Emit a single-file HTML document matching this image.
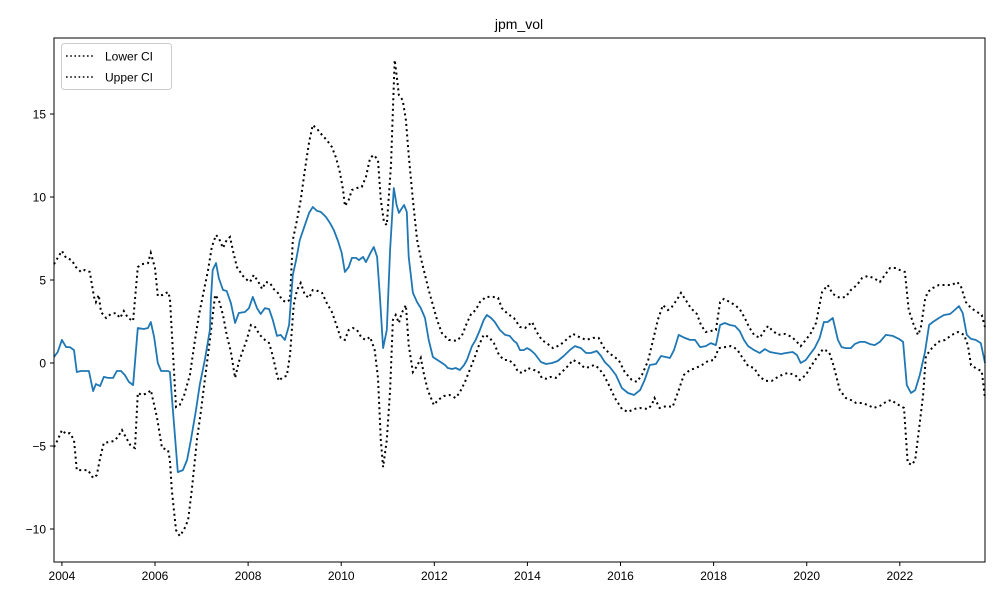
<!DOCTYPE html>
<html><head><meta charset="utf-8"><style>
body{margin:0;background:#fff;}
svg{display:block;font-family:"Liberation Sans","DejaVu Sans",sans-serif;}
</style></head><body>
<svg id="chart" width="1000" height="600">
<rect x="0" y="0" width="1000" height="600" fill="#fff"/>
<text x="519" y="29" font-size="14" text-anchor="middle">jpm_vol</text>
<g id="grid"></g>
<g id="series"></g>
<rect x="54" y="38" width="931" height="524" fill="none" stroke="#000" stroke-width="1"/>
<g>
<rect x="61.5" y="43.5" width="110" height="46" rx="3" fill="#fff" fill-opacity="0.8" stroke="#ccc"/>
<line x1="66" y1="56" x2="94" y2="56" stroke="#000" stroke-width="1.6" stroke-dasharray="1.6,2.6"/>
<text x="105" y="60.5" font-size="12">Lower CI</text>
<line x1="66" y1="77" x2="94" y2="77" stroke="#000" stroke-width="1.6" stroke-dasharray="1.6,2.6"/>
<text x="105" y="81.5" font-size="12">Upper CI</text>
</g>
</svg>
<script>
const xTicks=[2004,2006,2008,2010,2012,2014,2016,2018,2020,2022];
const yTicks=[-10,-5,0,5,10,15];
const midDates=[2003.83,2003.91,2004.00,2004.09,2004.17,2004.26,2004.32,2004.41,2004.58,2004.67,2004.73,2004.82,2004.90,2004.99,2005.10,2005.18,2005.27,2005.35,2005.44,2005.53,2005.63,2005.76,2005.85,2005.91,2005.98,2006.06,2006.13,2006.28,2006.32,2006.49,2006.60,2006.69,2006.77,2006.88,2006.96,2007.07,2007.18,2007.20,2007.24,2007.31,2007.37,2007.46,2007.54,2007.63,2007.72,2007.80,2007.93,2008.02,2008.10,2008.19,2008.27,2008.36,2008.45,2008.53,2008.62,2008.70,2008.79,2008.88,2008.96,2009.03,2009.11,2009.22,2009.31,2009.39,2009.48,2009.56,2009.67,2009.76,2009.84,2009.93,2010.01,2010.08,2010.16,2010.23,2010.32,2010.38,2010.47,2010.53,2010.64,2010.70,2010.77,2010.83,2010.90,2010.98,2011.05,2011.13,2011.19,2011.24,2011.28,2011.35,2011.41,2011.45,2011.54,2011.63,2011.71,2011.80,2011.88,2011.97,2012.10,2012.23,2012.29,2012.38,2012.46,2012.55,2012.64,2012.70,2012.81,2012.89,2012.98,2013.06,2013.13,2013.22,2013.30,2013.41,2013.52,2013.62,2013.71,2013.77,2013.84,2013.92,2013.99,2014.07,2014.16,2014.29,2014.40,2014.53,2014.65,2014.78,2014.91,2015.02,2015.15,2015.26,2015.36,2015.49,2015.58,2015.66,2015.77,2015.90,2016.03,2016.16,2016.29,2016.42,2016.52,2016.63,2016.76,2016.87,2016.97,2017.06,2017.15,2017.25,2017.38,2017.49,2017.60,2017.71,2017.83,2017.94,2018.05,2018.14,2018.24,2018.35,2018.46,2018.56,2018.65,2018.74,2018.87,2018.99,2019.10,2019.21,2019.32,2019.45,2019.55,2019.70,2019.79,2019.87,2019.98,2020.09,2020.17,2020.28,2020.37,2020.45,2020.56,2020.67,2020.75,2020.84,2020.95,2021.03,2021.14,2021.25,2021.36,2021.46,2021.57,2021.70,2021.85,2021.98,2022.07,2022.15,2022.24,2022.33,2022.43,2022.54,2022.63,2022.71,2022.84,2022.95,2023.08,2023.18,2023.27,2023.35,2023.44,2023.53,2023.63,2023.74,2023.83];
const midValues=[0.36,0.66,1.39,0.96,0.96,0.78,-0.54,-0.48,-0.48,-1.69,-1.27,-1.39,-0.84,-0.90,-0.90,-0.48,-0.48,-0.72,-1.14,-1.33,2.11,2.05,2.11,2.47,1.57,0,-0.48,-0.48,-0.54,-6.57,-6.45,-5.84,-4.64,-2.83,-1.33,0.18,1.99,3.80,5.6,6.02,5.12,4.40,4.34,3.61,2.41,3.01,3.07,3.31,3.98,3.31,2.95,3.31,3.25,2.59,1.63,1.69,1.39,2.29,5.30,6.20,7.41,8.31,9.04,9.40,9.16,9.10,8.80,8.43,8.01,7.35,6.63,5.48,5.78,6.33,6.33,6.20,6.39,6.08,6.69,6.99,6.39,4.10,0.90,1.99,6.81,10.54,9.52,9.04,9.22,9.52,9.10,6.39,4.22,3.67,3.31,2.71,1.39,0.36,0.12,-0.12,-0.30,-0.36,-0.30,-0.42,-0.12,0.18,1.02,1.39,1.99,2.59,2.89,2.71,2.47,1.99,1.69,1.63,1.33,1.20,0.78,0.78,0.90,0.78,0.54,0.06,-0.06,0,0.12,0.42,0.78,1.02,0.90,0.60,0.60,0.72,0.42,0.06,-0.24,-0.72,-1.51,-1.81,-1.93,-1.63,-1.02,-0.12,-0.06,0.42,0.36,0.30,0.78,1.69,1.51,1.39,1.39,0.96,1.02,1.20,1.08,2.29,2.41,2.29,2.23,1.93,1.39,1.02,0.78,0.60,0.84,0.66,0.60,0.54,0.60,0.66,0.48,0,0.18,0.60,0.90,1.51,2.47,2.47,2.71,1.39,0.96,0.90,0.90,1.14,1.27,1.27,1.14,1.08,1.27,1.69,1.63,1.45,1.27,-1.33,-1.81,-1.63,-0.72,0.66,2.29,2.47,2.71,2.89,2.95,3.19,3.43,3.01,1.69,1.45,1.39,1.20,0];
const upperDates=[2003.83,2003.91,2004.00,2004.09,2004.21,2004.30,2004.41,2004.49,2004.60,2004.69,2004.73,2004.79,2004.84,2004.95,2005.05,2005.16,2005.25,2005.33,2005.42,2005.53,2005.63,2005.72,2005.85,2005.91,2006.00,2006.06,2006.17,2006.28,2006.32,2006.45,2006.53,2006.62,2006.75,2006.86,2006.94,2007.03,2007.14,2007.22,2007.31,2007.37,2007.46,2007.54,2007.61,2007.67,2007.76,2007.89,2007.95,2008.04,2008.12,2008.21,2008.30,2008.38,2008.47,2008.55,2008.64,2008.73,2008.81,2008.90,2008.96,2009.05,2009.13,2009.22,2009.31,2009.39,2009.50,2009.59,2009.69,2009.80,2009.89,2009.97,2010.04,2010.08,2010.16,2010.23,2010.34,2010.44,2010.53,2010.62,2010.70,2010.79,2010.85,2010.92,2010.98,2011.07,2011.11,2011.15,2011.19,2011.24,2011.32,2011.39,2011.45,2011.54,2011.63,2011.71,2011.80,2011.88,2011.97,2012.06,2012.16,2012.31,2012.48,2012.59,2012.70,2012.79,2012.89,2012.98,2013.11,2013.26,2013.37,2013.45,2013.58,2013.71,2013.84,2013.95,2014.10,2014.20,2014.31,2014.44,2014.55,2014.70,2014.83,2014.98,2015.15,2015.26,2015.41,2015.53,2015.66,2015.81,2015.96,2016.09,2016.24,2016.35,2016.46,2016.59,2016.70,2016.80,2016.91,2017.02,2017.10,2017.21,2017.30,2017.40,2017.51,2017.64,2017.73,2017.83,2017.94,2018.05,2018.14,2018.22,2018.35,2018.46,2018.56,2018.67,2018.76,2018.87,2018.99,2019.10,2019.17,2019.25,2019.38,2019.53,2019.68,2019.79,2019.87,2019.98,2020.09,2020.20,2020.33,2020.45,2020.56,2020.71,2020.84,2020.95,2021.08,2021.19,2021.31,2021.44,2021.57,2021.68,2021.79,2021.92,2022.00,2022.11,2022.19,2022.30,2022.39,2022.45,2022.54,2022.60,2022.71,2022.84,2022.97,2023.12,2023.23,2023.31,2023.42,2023.53,2023.63,2023.76,2023.83];
const upperValues=[5.96,6.33,6.75,6.33,6.20,5.78,5.48,5.60,5.48,3.98,3.67,4.10,3.07,2.71,2.95,3.01,2.71,3.13,2.71,2.53,5.78,5.96,6.02,6.63,5.72,4.04,4.10,4.28,3.92,-2.65,-2.53,-1.99,-0.72,1.39,2.83,4.10,5.60,6.99,7.71,7.53,6.93,7.41,7.59,6.81,5.78,5.24,5.06,4.88,5.30,4.94,4.46,4.88,4.82,4.46,4.22,3.80,3.67,3.80,7.41,8.61,9.82,11.63,13.31,14.34,14.04,13.73,13.43,13.01,12.35,11.51,10.42,9.46,9.82,10.42,10.54,10.60,11.20,12.35,12.53,12.23,9.82,8.49,8.31,11.93,15.24,18.25,17.35,16.14,15.84,14.64,12.53,9.82,7.41,6.33,5.30,4.40,3.49,2.59,1.81,1.39,1.33,1.63,2.41,2.95,3.19,3.67,3.98,3.98,3.92,3.31,2.95,2.71,2.17,2.11,2.47,1.87,1.39,1.14,0.90,1.08,1.39,1.75,1.51,1.39,1.51,1.51,0.84,0.48,0.18,-0.54,-1.02,-1.14,-0.72,0.12,1.39,2.59,3.49,3.19,3.37,3.80,4.22,3.80,3.31,2.95,2.29,1.87,1.93,1.99,3.67,3.86,3.67,3.49,3.25,2.71,2.17,1.69,1.51,1.99,2.23,1.99,1.69,1.75,1.57,1.27,1.02,1.39,1.81,2.41,4.28,4.70,4.16,3.92,3.98,4.40,4.70,5.12,5.24,5.12,4.88,5.30,5.72,5.72,5.60,5.48,3.19,2.29,1.69,2.11,3.80,4.28,4.52,4.70,4.70,4.70,4.88,4.64,3.67,3.31,3.13,2.89,2.17];
const lowerDates=[2003.83,2003.91,2004.00,2004.09,2004.17,2004.26,2004.32,2004.43,2004.56,2004.67,2004.75,2004.82,2004.90,2005.01,2005.12,2005.20,2005.29,2005.37,2005.48,2005.57,2005.63,2005.72,2005.85,2005.91,2006.04,2006.15,2006.28,2006.32,2006.36,2006.45,2006.53,2006.62,2006.71,2006.79,2006.90,2006.99,2007.07,2007.18,2007.29,2007.37,2007.46,2007.54,2007.63,2007.72,2007.80,2007.89,2007.97,2008.06,2008.15,2008.25,2008.36,2008.45,2008.53,2008.62,2008.66,2008.75,2008.83,2008.90,2008.98,2009.05,2009.13,2009.22,2009.31,2009.39,2009.50,2009.59,2009.69,2009.80,2009.89,2009.99,2010.08,2010.16,2010.25,2010.34,2010.44,2010.53,2010.62,2010.72,2010.79,2010.85,2010.90,2010.98,2011.05,2011.11,2011.17,2011.24,2011.30,2011.39,2011.45,2011.54,2011.63,2011.71,2011.78,2011.86,2011.99,2012.08,2012.21,2012.33,2012.46,2012.55,2012.66,2012.76,2012.87,2012.96,2013.06,2013.17,2013.28,2013.39,2013.50,2013.60,2013.71,2013.80,2013.90,2014.01,2014.14,2014.23,2014.31,2014.42,2014.50,2014.61,2014.74,2014.87,2014.98,2015.11,2015.23,2015.34,2015.43,2015.53,2015.64,2015.75,2015.88,2016.03,2016.16,2016.29,2016.42,2016.59,2016.67,2016.73,2016.84,2016.99,2017.12,2017.25,2017.36,2017.49,2017.62,2017.75,2017.88,2018.01,2018.11,2018.24,2018.37,2018.50,2018.61,2018.74,2018.87,2018.99,2019.12,2019.25,2019.38,2019.51,2019.60,2019.75,2019.85,2019.98,2020.11,2020.24,2020.35,2020.48,2020.58,2020.71,2020.84,2020.95,2021.06,2021.19,2021.31,2021.44,2021.57,2021.70,2021.81,2021.94,2022.09,2022.17,2022.26,2022.33,2022.41,2022.50,2022.56,2022.69,2022.82,2022.97,2023.12,2023.25,2023.38,2023.46,2023.53,2023.66,2023.76,2023.83];
const lowerValues=[-5.06,-4.64,-4.04,-4.28,-4.22,-4.64,-6.45,-6.45,-6.45,-6.93,-6.75,-5.72,-4.82,-4.76,-4.70,-4.46,-4.04,-4.46,-5.00,-5.12,-1.81,-1.93,-1.81,-1.63,-3.25,-5.12,-5.24,-5.84,-7.65,-10.06,-10.42,-10.06,-9.46,-7.65,-4.64,-2.83,-1.02,1.39,4.10,3.80,2.89,1.69,0.66,-0.90,0.06,0.78,1.39,2.29,2.17,1.69,1.39,1.20,0.42,-0.72,-1.08,-0.84,-0.78,0.48,3.49,4.40,4.82,4.10,3.92,4.40,4.34,4.22,3.61,3.07,2.35,1.51,1.39,1.99,2.11,1.99,1.51,1.39,1.57,0.78,-0.90,-4.64,-6.27,-4.64,-1.63,2.59,2.89,2.41,3.01,3.49,1.08,-0.54,-0.18,0.30,-0.72,-1.63,-2.53,-2.23,-1.99,-1.93,-2.11,-1.75,-1.14,-0.42,0.36,1.08,1.69,1.57,1.20,0.48,0.18,0.18,-0.06,-0.54,-0.60,-0.30,-0.42,-0.48,-0.90,-0.96,-0.84,-0.90,-0.54,-0.18,0.18,0,-0.30,-0.24,-0.12,-0.30,-0.72,-1.33,-2.11,-2.77,-2.95,-2.77,-2.71,-2.77,-2.53,-2.11,-2.71,-2.59,-2.65,-1.63,-0.72,-0.42,-0.30,-0.12,0.12,0.18,0.90,0.96,1.02,0.84,0.36,-0.18,-0.30,-0.84,-1.08,-1.08,-0.84,-0.66,-0.60,-0.72,-1.02,-0.72,-0.12,0.42,0.84,0.66,-0.18,-1.63,-2.11,-2.23,-2.41,-2.41,-2.53,-2.71,-2.59,-2.35,-2.23,-2.47,-2.71,-6.02,-6.14,-5.84,-4.04,-1.93,0.42,0.90,1.27,1.39,1.69,1.87,1.69,1.08,-0.12,-0.36,-0.48,-2.11];

const NS='http://www.w3.org/2000/svg';
const L=54,R=985,T=38,B=562,X0=2003.83,X1=2023.83,Y0=-11.94,Y1=19.63;
function xs(v){return L+(v-X0)/(X1-X0)*(R-L);}
function ys(v){return 363-v*16.6;}
function mk(tag,attrs,parent){const e=document.createElementNS(NS,tag);for(const k in attrs)e.setAttribute(k,attrs[k]);parent.appendChild(e);return e;}
const grid=document.getElementById('grid');
xTicks.forEach(t=>{
  const x=xs(t);
  const tk=mk('line',{x1:x,y1:B,x2:x,y2:B+4,stroke:'#000'},grid);
  
  
  const lb=mk('text',{x:x,y:B+18,'font-size':12,'text-anchor':'middle'},grid);
  lb.textContent=t;
  
  
});
yTicks.forEach(t=>{
  const y=ys(t);
  const tk=mk('line',{x1:L-4,y1:y,x2:L,y2:y,stroke:'#000'},grid);
  
  
  const lb=mk('text',{x:L-8,y:y+4.5,'font-size':12,'text-anchor':'end'},grid);
  lb.textContent=t<0?'\u2212'+Math.abs(t):t;
  
  
});
const sg=document.getElementById('series');
function path(d,v){return d.map((t,i)=>(i?'L':'M')+xs(t).toFixed(1)+','+ys(v[i]).toFixed(1)).join(' ');}
const lo=mk('path',{d:path(lowerDates,lowerValues),fill:'none',stroke:'#000','stroke-width':2,'stroke-dasharray':'2,3.3'},sg);


const up=mk('path',{d:path(upperDates,upperValues),fill:'none',stroke:'#000','stroke-width':2,'stroke-dasharray':'2,3.3'},sg);


const md=mk('path',{d:path(midDates,midValues),fill:'none',stroke:'#1f77b4','stroke-width':1.8,'stroke-linejoin':'round'},sg);


</script>
</body></html>
